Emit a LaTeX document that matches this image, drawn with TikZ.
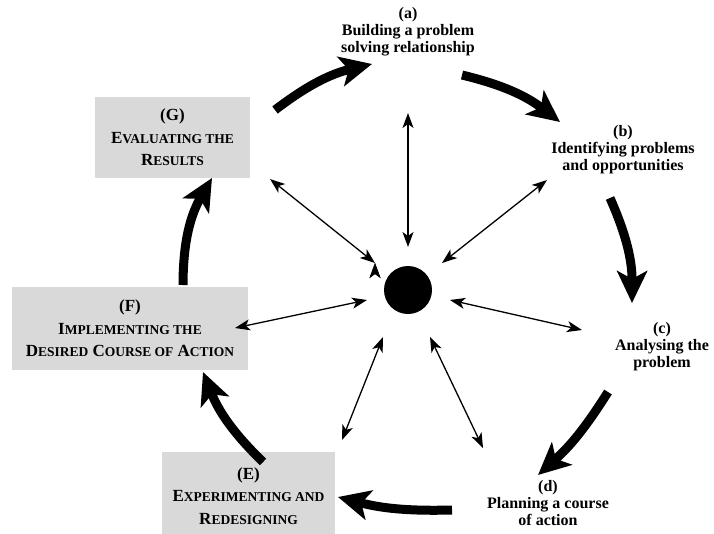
\documentclass[tikz,border=0pt]{standalone}
\usepackage{fontspec}
\setmainfont{Liberation Serif}
\usepackage{tikz}
\usetikzlibrary{arrows.meta}

\newcommand\smc[1]{{\fontsize{13.5}{16}\selectfont #1}}

\begin{document}
\begin{tikzpicture}[x=1pt, y=-1pt,
    spoke/.style={{Stealth[length=15pt,width=11pt,inset=4pt]}-{Stealth[length=15pt,width=11pt,inset=4pt]}, line width=1.3pt},
    bigarrow/.style={-{Stealth[length=32pt,width=30pt,inset=8pt]}, line width=9pt},
    stage/.style={font=\bfseries\fontsize{16}{17}\selectfont, align=center},
    box/.style={fill=black!15, font=\bfseries\fontsize{17}{22.5}\selectfont, align=center, inner sep=0pt}]
      \useasboundingbox (0,0) rectangle (714,533);

      % the centre
      \node[circle, fill=black, minimum size=48, inner sep=0pt] (hub) at (408,290) {};

      % stages (a)-(d)
      \node[stage] (a) at (408,32)  {(a)\\Building a problem\\solving relationship};
      \node[stage] (b) at (623,150) {(b)\\Identifying problems\\and opportunities};
      \node[stage] (c) at (662,347) {(c)\\Analysing the\\problem};
      \node[stage] (d) at (548,503) {(d)\\Planning a course\\of action};

      % stages (E)-(G)
      \node[box, minimum width=173, minimum height=88] (E) at (248.5,496)
           {(E)\\E\smc{XPERIMENTING AND}\\R\smc{EDESIGNING}};
      \node[box, minimum width=236, minimum height=83] (F) at (130,328.5)
           {(F)\\I\smc{MPLEMENTING THE}\\D\smc{ESIRED} C\smc{OURSE OF} A\smc{CTION}};
      \node[box, minimum width=155, minimum height=81] (G) at (172.5,137.5)
           {(G)\\E\smc{VALUATING THE}\\R\smc{ESULTS}};

      % spoke ends
      \coordinate (ha) at (408,247);  \coordinate (sa) at (408,113);
      \coordinate (hb) at (442,263);  \coordinate (sb) at (547,180);
      \coordinate (hc) at (450,300);  \coordinate (sc) at (582,330);
      \coordinate (hd) at (430,337);  \coordinate (sd) at (483,448);
      \coordinate (hE) at (383,337);  \coordinate (sE) at (342,440);
      \coordinate (hF) at (367,300);  \coordinate (sF) at (235,328);
      \coordinate (hG) at (375,263);  \coordinate (sG) at (270,179);

      \draw[spoke] (ha) edge (sa)
                   (hb) edge (sb)
                   (hc) edge (sc)
                   (hd) edge (sd)
                   (hE) edge (sE)
                   (hF) edge (sF)
                   (hG) edge (sG);

      % cycle arrows
      \coordinate (ga) at (275,110);  \coordinate (ag) at (372,64);
      \coordinate (ab) at (462,75);   \coordinate (ba) at (560,122);
      \coordinate (bc) at (610,198);  \coordinate (cb) at (632,303);
      \coordinate (cd) at (608,392);  \coordinate (dc) at (538,475);
      \coordinate (dE) at (452,510);  \coordinate (Ed) at (338,497);
      \coordinate (EF) at (263,462);  \coordinate (FE) at (203,372);
      \coordinate (FG) at (183,285);  \coordinate (GF) at (212,178);

      \draw[bigarrow] (ga) to[bend left=12] (ag);
      \draw[bigarrow] (ab) to[bend left=12] (ba);
      \draw[bigarrow] (bc) to[bend left=12] (cb);
      \draw[bigarrow] (cd) to[bend left=8]  (dc);
      \draw[bigarrow] (dE) to[bend left=8]  (Ed);
      \draw[bigarrow] (EF) to[bend left=12] (FE);
      \draw[bigarrow] (FG) to[bend left=15] (GF);
    \end{tikzpicture}
\end{document}
